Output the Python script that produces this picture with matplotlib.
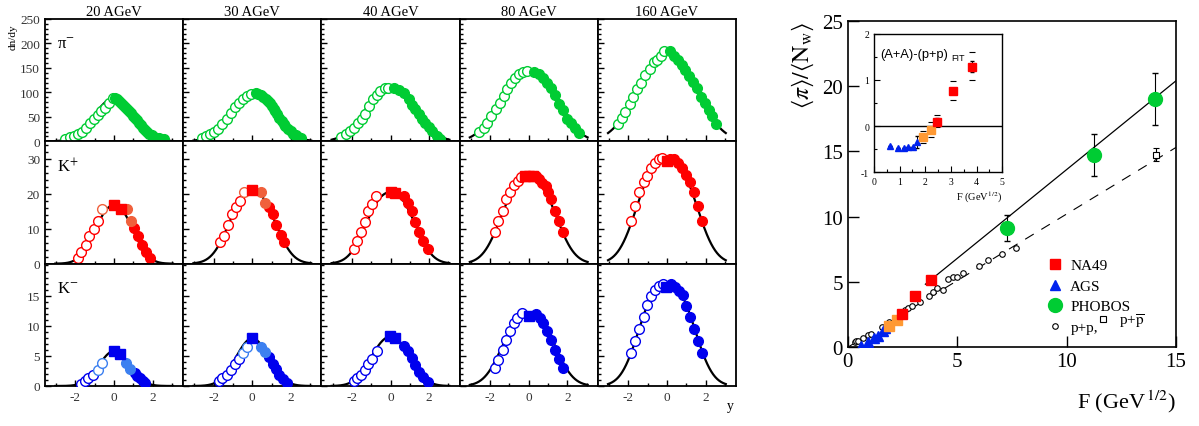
import numpy as np
import matplotlib
matplotlib.use('Agg')
import matplotlib.pyplot as plt
from matplotlib.ticker import MultipleLocator
from matplotlib.lines import Line2D

plt.rcParams['font.family'] = ['Liberation Serif', 'DejaVu Serif']
plt.rcParams['mathtext.fontset'] = 'stix'
plt.rcParams['axes.unicode_minus'] = False

energies = ['20 AGeV', '30 AGeV', '40 AGeV', '80 AGeV', '160 AGeV']

# ---- pi- (dn/dy vs y), open = reflected, filled = measured
pim_open_y = [[-2.55, -2.31, -2.09, -1.88, -1.66, -1.45, -1.24, -1.03, -0.84, -0.66, -0.45, -0.24, -0.07],
              [-2.59, -2.38, -2.19, -1.98, -1.78, -1.55, -1.33, -1.12, -0.91, -0.69, -0.48, -0.26, -0.05],
              [-2.55, -2.33, -2.1, -1.9, -1.69, -1.5, -1.33, -1.12, -0.9, -0.69, -0.52, -0.31, -0.12],
              [-2.57, -2.34, -2.14, -1.93, -1.71, -1.48, -1.28, -1.1, -0.93, -0.72, -0.5, -0.29, -0.1],
              [-2.54, -2.32, -2.15, -1.92, -1.75, -1.54, -1.34, -1.11, -0.89, -0.68, -0.51, -0.3, -0.13]]
pim_open_n = [[5.5, 8, 11, 14, 20, 28, 38, 46, 54, 61, 69, 79, 88],
              [7.5, 11, 14, 19, 26, 35, 46, 57, 71, 79, 86, 93, 97],
              [9.6, 14, 21, 28, 37, 45, 55, 72, 86, 94, 103, 108, 109],
              [19, 28, 38, 52, 66, 79, 93, 107, 120, 130, 137, 141, 144],
              [35, 48, 60, 76, 91, 107, 119, 135, 148, 163, 167, 175, 185]]
pim_fill_y = [[0.05, 0.16, 0.27, 0.38, 0.48, 0.59, 0.69, 0.79, 0.9, 1.0, 1.1, 1.21, 1.31, 1.41, 1.52,
               1.62, 1.72, 1.83, 1.94, 2.05, 2.18, 2.31, 2.44, 2.57],
              [0.17, 0.3, 0.43, 0.56, 0.69, 0.8, 0.9, 1.01, 1.12, 1.2, 1.29, 1.4, 1.52, 1.62, 1.72,
               1.85, 1.98, 2.11, 2.24, 2.37, 2.5],
              [0.17, 0.43, 0.69, 0.95, 1.12, 1.29, 1.47, 1.64, 1.81, 1.98, 2.16, 2.41, 2.59],
              [0.28, 0.53, 0.76, 0.97, 1.14, 1.34, 1.57, 1.78, 2.0, 2.17, 2.38, 2.6],
              [0.15, 0.35, 0.56, 0.78, 0.96, 1.16, 1.35, 1.56, 1.76, 1.96, 2.16, 2.33, 2.54]]
pim_fill_n = [[88, 86, 82, 79, 75, 71, 66, 62, 57, 52, 48, 43, 38, 33, 28, 23, 19, 15, 12, 9.6, 7.5, 6, 5, 4],
              [98, 96, 94, 91, 87, 83, 79, 73, 67, 61, 55, 48, 42, 36, 31, 26, 21, 16, 12, 9, 7],
              [108, 105, 98, 87, 74, 66, 55, 46, 38, 30, 21, 11, 5.5],
              [142, 137, 130, 120, 108, 94, 76, 64, 46, 37, 28, 18],
              [184, 175, 167, 156, 146, 134, 122, 110, 91, 79, 64, 52, 35]]

# ---- K+
kp_open_y = [[-1.86, -1.69, -1.48, -1.28, -1.05, -0.86], [-1.69, -1.47, -1.26, -1.03, -0.83, -0.66],
             [-1.9, -1.72, -1.52, -1.34, -1.16, -0.95, -0.74],
             [-1.74, -1.57, -1.33, -1.16, -0.98, -0.76, -0.57, -0.38],
             [-1.85, -1.63, -1.42, -1.2, -1.03, -0.8, -0.6, -0.43, -0.25]]
kp_open_n = [[1.7, 3.2, 5.2, 7.8, 10.0, 12.3], [6.3, 7.9, 11.1, 14.3, 16.3, 17.8],
             [4.2, 6.5, 9.2, 12.0, 15.1, 17.0, 19.4],
             [9.0, 12.2, 15.2, 18.5, 20.6, 22.4, 23.7, 24.9],
             [12.3, 16.4, 20.6, 23.3, 25.0, 27.3, 28.7, 30.0, 30.2]]
kp_lopen_y = [[-0.62], [-0.45], [], [], []]
kp_lopen_n = [[15.7], [20.5], [], [], []]
kp_sq_y = [[0.0, 0.34], [0.0], [0.0, 0.22], [-0.2, 0.0, 0.2], [0.0]]
kp_sq_n = [[16.8, 15.7], [21.1], [20.6, 20.3], [25.1, 25.1, 25.0], [29.4]]
kp_lfill_y = [[0.67, 0.86], [0.45, 0.64], [], [], []]
kp_lfill_n = [[15.7, 12.3], [20.5, 17.3], [], [], []]
kp_fill_y = [[1.03, 1.24, 1.45, 1.66, 1.88], [0.86, 1.07, 1.24, 1.47, 1.66],
             [0.69, 0.9, 1.09, 1.29, 1.5, 1.69, 1.93],
             [0.36, 0.53, 0.71, 0.88, 1.0, 1.17, 1.34, 1.57, 1.76],
             [0.14, 0.35, 0.56, 0.78, 0.99, 1.22, 1.39, 1.61, 1.82]]
kp_fill_n = [[10.1, 7.9, 5.4, 3.3, 1.5], [16.3, 14.1, 11.1, 8.2, 6.3],
             [19.4, 17.3, 15.1, 12.0, 9.0, 6.5, 4.2],
             [25.0, 24.3, 23.0, 22.1, 20.6, 18.5, 15.2, 12.2, 9.0],
             [30.0, 30.0, 28.8, 27.3, 25.4, 23.5, 20.5, 16.5, 12.3]]

# ---- K-
km_open_y = [[-1.74, -1.52, -1.34, -1.1], [-1.72, -1.55, -1.29, -1.12, -0.9, -0.69],
             [-1.9, -1.72, -1.55, -1.33, -1.16, -0.95, -0.72],
             [-1.74, -1.57, -1.33, -1.16, -0.97, -0.76, -0.59, -0.36],
             [-1.85, -1.63, -1.42, -1.2, -1.03, -0.8, -0.6, -0.42, -0.2]]
km_open_n = [[0.4, 0.9, 1.3, 1.9], [0.76, 1.3, 1.8, 2.66, 3.6, 4.5],
             [0.9, 1.3, 1.8, 2.66, 3.6, 4.5, 5.8],
             [3.0, 4.3, 5.9, 7.6, 9.2, 10.4, 11.3, 12.1],
             [5.5, 7.5, 9.4, 11.5, 13.4, 15.0, 15.9, 16.6, 17.0]]
km_lopen_y = [[-0.84, -0.62], [-0.48, -0.29], [], [], []]
km_lopen_n = [[2.7, 3.8], [5.5, 6.4], [], [], []]
km_sq_y = [[0.0, 0.33], [0.0], [-0.03, 0.22], [0.02], [-0.03]]
km_sq_n = [[5.8, 5.3], [7.9], [8.3, 8.0], [11.6], [16.5]]
km_lfill_y = [[0.64, 0.84], [0.47, 0.66], [], [], []]
km_lfill_n = [[3.8, 2.9], [6.45, 5.6], [], [], []]
km_fill_y = [[1.07, 1.2, 1.33, 1.48, 1.62], [0.86, 1.07, 1.21, 1.38, 1.59, 1.81],
             [0.69, 0.91, 1.09, 1.29, 1.5, 1.69, 1.93],
             [0.36, 0.57, 0.76, 0.93, 1.17, 1.36, 1.57, 1.78],
             [0.21, 0.44, 0.65, 0.82, 0.99, 1.22, 1.39, 1.61, 1.82]]
km_fill_n = [[2.1, 1.7, 1.3, 0.9, 0.5], [4.8, 3.7, 2.8, 1.85, 1.1, 0.5],
             [6.7, 5.8, 4.7, 3.5, 2.4, 1.5, 0.7],
             [12.0, 11.3, 10.5, 9.2, 7.6, 5.9, 4.4, 3.0],
             [17.0, 16.5, 15.7, 15.1, 13.3, 11.5, 9.4, 7.5, 5.5]]

# double gaussian fit parameters: value at y=0, shift y0, width sigma
pim_fit = {'peak': [88, 97, 108, 146, 185], 'y0': [0.5, 0.6, 0.7, 0.8, 0.7], 'sig': [0.85, 0.9, 0.95, 1.0, 1.2]}
kp_fit = {'peak': [16.8, 21.1, 20.5, 25.1, 30.0], 'y0': [0.5, 0.6, 0.65, 0.72, 0.8], 'sig': [0.7, 0.8, 0.8, 0.87, 0.9]}
km_fit = {'peak': [5.8, 7.9, 8.2, 12.0, 17.0], 'y0': [0.3, 0.35, 0.5, 0.7, 0.75], 'sig': [0.7, 0.75, 0.75, 0.85, 0.85]}

# ---- right plot: <pi>/<Nw> vs F
na49_F = [2.46, 3.07, 3.79]
na49_v = [2.55, 3.9, 5.15]
na49o_F = [1.9, 2.24]
na49o_v = [1.66, 2.11]
ags_F = [0.61, 0.94, 1.2, 1.4, 1.63, 1.7]
ags_v = [0.08, 0.38, 0.69, 0.89, 1.25, 1.45]
phobos_F = [7.27, 11.26, 14.03]
phobos_v = [9.13, 14.7, 19.0]
phobos_err = [1.0, 1.6, 2.0]
pp_F = [0.33, 0.4, 0.49, 0.71, 0.94, 1.06, 1.55, 1.9, 2.62, 2.77, 2.92, 3.3, 3.71, 3.88, 4.06,
        4.34, 4.57, 4.79, 5.0, 5.25, 6.0, 6.42, 7.05, 7.69]
pp_v = [0.43, 0.45, 0.48, 0.71, 0.94, 1.04, 1.53, 1.96, 2.86, 3.01, 3.14, 3.49, 3.95, 4.26, 4.56,
        4.39, 5.23, 5.36, 5.36, 5.69, 6.2, 6.68, 7.14, 7.63]
ppbar_F = [14.08]
ppbar_v = [14.75]
ppbar_err = [0.5]
aa_slope, aa_start = 1.36, 3.55
pp_slope = 1.02

# ---- inset
in_ags_F = [0.62, 0.95, 1.17, 1.34, 1.53, 1.66]
in_ags_v = [-0.44, -0.48, -0.48, -0.45, -0.45, -0.34]
in_ags_err = [0, 0, 0, 0, 0, 0.13]
in_na_F = [1.9, 2.21, 2.47, 3.09, 3.81]
in_na_v = [-0.23, -0.08, 0.095, 0.77, 1.29]
in_na_err = [0.05, 0.05, 0.08, 0.05, 0.12]
in_na_syslo = [-0.37, -0.23, -0.01, 0.565, 1.0]
in_na_syshi = [-0.10, 0.08, 0.24, 0.98, 1.6]
in_na_col = ['#ff9933', '#ff9933', '#ff0000', '#ff0000', '#ff0000']

GREEN = '#00cc33'
RED = '#ff0000'
LRED = '#f0603c'
BLUE = '#0000ee'
LBLUE = '#3c80f0'

fig = plt.figure(figsize=(11.99, 4.27), dpi=100)

L, R, T, B = 45 / 1199, 736 / 1199, 1 - 20 / 427, 1 - 387 / 427
W = (R - L) / 5
H = (T - B) / 3

rows = [
    (pim_open_y, pim_open_n, pim_fill_y, pim_fill_n, None, None, None, None, None, None, pim_fit, GREEN, GREEN,
     250, 50, 10),
    (kp_open_y, kp_open_n, kp_fill_y, kp_fill_n, kp_sq_y, kp_sq_n, kp_lopen_y, kp_lopen_n, kp_lfill_y, kp_lfill_n,
     kp_fit, RED, LRED, 35, 10, 2),
    (km_open_y, km_open_n, km_fill_y, km_fill_n, km_sq_y, km_sq_n, km_lopen_y, km_lopen_n, km_lfill_y, km_lfill_n,
     km_fit, BLUE, LBLUE, 20.3, 5, 1),
]
labels = ['π$^{-}$', 'K$^{+}$', 'K$^{-}$']

ms = 7
for r, row in enumerate(rows):
    (oy, on, fy, fn, sy, sn, loy, lon, lfy, lfn, fit, col, lcol, ymax, maj, mnr) = row
    for c in range(5):
        ax = fig.add_axes([L + c * W, B + (2 - r) * H, W, H])
        yy = np.linspace(-3.05, 3.05, 300)
        y0, s = fit['y0'][c], fit['sig'][c]
        g = np.exp(-(yy - y0) ** 2 / (2 * s * s)) + np.exp(-(yy + y0) ** 2 / (2 * s * s))
        g0 = 2 * np.exp(-y0 ** 2 / (2 * s * s))
        ax.plot(yy, fit['peak'][c] * g / g0, color='black', lw=1.6, zorder=1)
        ax.plot(oy[c], on[c], 'o', ms=ms, mfc='white', mec=col, mew=1.0, ls='none', zorder=3)
        ax.plot(fy[c], fn[c], 'o', ms=ms, color=col, ls='none', zorder=3)
        if sy is not None:
            ax.plot(loy[c], lon[c], 'o', ms=ms, mfc='white', mec=lcol, mew=1.0, ls='none', zorder=3)
            ax.plot(lfy[c], lfn[c], 'o', ms=ms, color=lcol, ls='none', zorder=3)
            ax.plot(sy[c], sn[c], 's', ms=ms, color=col, ls='none', zorder=4)
        ax.set_xlim(-3.58, 3.58)
        ax.set_ylim(0, ymax)
        ax.xaxis.set_major_locator(MultipleLocator(2))
        ax.xaxis.set_minor_locator(MultipleLocator(1))
        ax.yaxis.set_major_locator(MultipleLocator(maj))
        ax.yaxis.set_minor_locator(MultipleLocator(mnr))
        ax.tick_params(which='both', direction='in', top=False, right=False, labelsize=9.5,
                       labelcolor='#333333', width=1.0)
        ax.tick_params(which='major', length=4)
        ax.tick_params(which='minor', length=2)
        if r == 1:
            ax.set_yticks([0, 10, 20, 30])
        if r == 2:
            ax.set_yticks([0, 5, 10, 15])
        if c != 0:
            ax.tick_params(labelleft=False)
        if r != 2:
            ax.tick_params(labelbottom=False)
        for sp in ax.spines.values():
            sp.set_linewidth(1.3)
        if r == 0:
            ax.set_title(energies[c], fontsize=10.5, pad=3)
        if c == 0:
            ax.text(0.09, 0.80, labels[r], transform=ax.transAxes, fontsize=12, va='center')

fig.text(0.011, 0.913, 'dn/dy', rotation=90, fontsize=8, ha='center', va='center')
fig.text(730 / 1199, 1 - 407 / 427, 'y', fontsize=10, ha='center', va='center')

# ---- main right panel
ax = fig.add_axes([847.7 / 1199, 1 - 348.3 / 427, 328.3 / 1199, 326.6 / 427])
ff = np.array([0, 15])
ax.plot(ff, pp_slope * ff, color='black', lw=0.8, ls=(0, (9, 8)), zorder=1)
fa = np.array([aa_start, 15])
ax.plot(fa, aa_slope * fa, color='black', lw=0.9, zorder=1)
ax.plot(pp_F, pp_v, 'o', ms=4, mfc='white', mec='black', mew=0.8, ls='none', zorder=2)
ax.errorbar(ppbar_F, ppbar_v, yerr=ppbar_err, fmt='s', ms=5, mfc='white', mec='black', mew=0.8,
            ecolor='black', elinewidth=0.8, capsize=2, zorder=2)
ax.plot(ags_F, ags_v, '^', ms=7, color='#0022ee', ls='none', zorder=3)
ax.plot(na49o_F, na49o_v, 's', ms=7.5, color='#ff9933', ls='none', zorder=3)
ax.plot(na49_F, na49_v, 's', ms=7.5, color=RED, ls='none', zorder=3)
ax.errorbar(phobos_F, phobos_v, yerr=phobos_err, fmt='o', ms=10, color=GREEN, ecolor='black',
            elinewidth=0.8, capsize=2.5, zorder=3)
ax.set_xlim(0, 15)
ax.set_ylim(0, 25)
ax.xaxis.set_major_locator(MultipleLocator(5))
ax.yaxis.set_major_locator(MultipleLocator(5))
ax.tick_params(direction='in', length=8, width=1.0, labelsize=15, top=False, right=False)
for sp in ax.spines.values():
    sp.set_linewidth(1.2)
ax.set_ylabel(r'$\langle\pi\rangle/\langle\mathrm{N_w}\rangle$', fontsize=17, loc='top', labelpad=4)
ax.set_xlabel(r'F (GeV$^{\,1/2}$)', fontsize=16, loc='right', labelpad=12)

h = [Line2D([], [], marker='s', ms=7, color=RED, ls='none'),
     Line2D([], [], marker='^', ms=7, color='#0022ee', ls='none'),
     Line2D([], [], marker='o', ms=10, color=GREEN, ls='none'),
     Line2D([], [], marker='o', ms=4, mfc='white', mec='black', mew=0.8, ls='none')]
leg = ax.legend(h, ['NA49', 'AGS', 'PHOBOS', 'p+p,'], loc='upper left', bbox_to_anchor=(0.585, 0.295),
                frameon=False, fontsize=11, handlelength=1.0, handletextpad=0.5, labelspacing=0.45,
                borderpad=0)
ax.add_artist(leg)
h2 = [Line2D([], [], marker='s', ms=5, mfc='white', mec='black', mew=0.8, ls='none')]
ax.legend(h2, [r'p+$\overline{\mathrm{p}}$'], loc='lower left', bbox_to_anchor=(0.73, 0.03),
          frameon=False, fontsize=11, handlelength=1.0, handletextpad=0.6, borderpad=0)

# ---- inset
ai = fig.add_axes([874 / 1199, 1 - 173.3 / 427, 128.3 / 1199, 138.6 / 427])
ai.axhline(0, color='black', lw=1.0, zorder=1)
ai.errorbar(in_ags_F, in_ags_v, yerr=in_ags_err, fmt='^', ms=5, color='#0022ee', ecolor='black',
            elinewidth=0.7, capsize=1.5, zorder=3)
for f, v, e, lo, hi, cc in zip(in_na_F, in_na_v, in_na_err, in_na_syslo, in_na_syshi, in_na_col):
    ai.errorbar([f], [v], yerr=[e], fmt='s', ms=5.5, color=cc, ecolor='black', elinewidth=0.7,
                capsize=1.5, zorder=3)
    ai.plot([f, f], [lo, hi], '_', ms=5, mew=0.8, color='black', zorder=2)
ai.set_xlim(0, 5)
ai.set_ylim(-1, 2)
ai.xaxis.set_major_locator(MultipleLocator(1))
ai.yaxis.set_major_locator(MultipleLocator(1))
ai.xaxis.set_minor_locator(MultipleLocator(0.5))
ai.yaxis.set_minor_locator(MultipleLocator(0.5))
ai.tick_params(which='both', direction='in', top=False, right=False, labelsize=7, width=0.8)
ai.tick_params(which='major', length=4)
ai.tick_params(which='minor', length=2)
for sp in ai.spines.values():
    sp.set_linewidth(1.0)
ai.text(0.05, 0.85, '(A+A)-(p+p)', transform=ai.transAxes, fontsize=9.3,
        family=['Liberation Sans', 'DejaVu Sans'], va='center')
ai.text(0.60, 0.825, 'FIT', transform=ai.transAxes, fontsize=6.5,
        family=['Liberation Sans', 'DejaVu Sans'], va='center')
ai.set_xlabel(r'F (GeV$^{1/2}$)', fontsize=7.5, loc='right', labelpad=2)

fig.savefig('out.png', dpi=100)
